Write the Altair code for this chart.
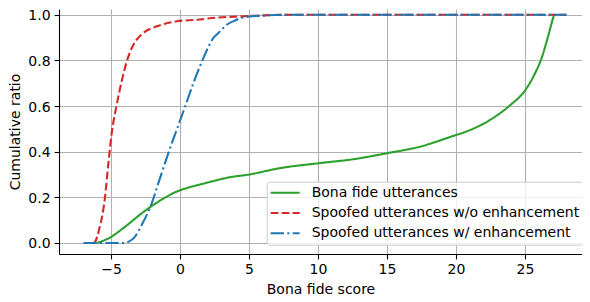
import altair as alt
import pandas as pd

series_names = [
    "Bona fide utterances",
    "Spoofed utterances w/o enhancement",
    "Spoofed utterances w/ enhancement",
]
series_colors = ["#2ca02c", "#d62728", "#1f77b4"]

bona_x = [-6.04, -5.19, -3.99, -2.78, -1.57, -0.36, 0.85, 1.81, 3.62, 5.0, 7.25,
          10.14, 12.56, 14.98, 17.39, 20.05, 20.41, 22.46, 23.91, 25.0, 25.7,
          26.2, 26.57, 26.93, 27.1]
bona_y = [0.0, 0.02, 0.071, 0.13, 0.181, 0.222, 0.247, 0.262, 0.288, 0.30, 0.328,
          0.35, 0.367, 0.393, 0.422, 0.474, 0.481, 0.539, 0.603, 0.668, 0.74,
          0.81, 0.883, 0.963, 1.0]

spoof_x = [-6.3, -6.16, -5.87, -5.43, -5.19, -4.95, -4.59, -4.23, -3.86, -3.38,
           -2.66, -1.69, -0.24, 1.21, 2.78, 4.59, 6.5, 9.0, 28.0]
spoof_y = [0.0, 0.005, 0.057, 0.203, 0.35, 0.481, 0.605, 0.708, 0.795, 0.868,
           0.92, 0.949, 0.971, 0.978, 0.988, 0.993, 0.998, 1.0, 1.0]

enh_x = [-7.0, -4.0, -3.74, -3.26, -2.78, -2.05, -1.57, -1.09, -0.6, -0.24, 0.24,
         0.97, 1.69, 2.42, 2.78, 3.38, 4.0, 4.59, 5.5, 6.28, 8.0, 28.0]
enh_y = [0.0, 0.0, 0.005, 0.028, 0.079, 0.174, 0.262, 0.35, 0.437, 0.496, 0.576,
         0.70, 0.81, 0.898, 0.92, 0.956, 0.975, 0.988, 0.994, 0.997, 1.0, 1.0]

x_ticks = [-5, 0, 5, 10, 15, 20, 25]
y_ticks = [0.0, 0.2, 0.4, 0.6, 0.8, 1.0]

frames = []
for name, xs, ys in zip(series_names, [bona_x, spoof_x, enh_x], [bona_y, spoof_y, enh_y]):
    frames.append(pd.DataFrame({"score": xs, "ratio": ys, "series": name, "idx": range(len(xs))}))
df = pd.concat(frames, ignore_index=True)

FONT = "DejaVu Sans"

x_enc = alt.X("score:Q",
              scale=alt.Scale(domain=[-8.77, 29.13], nice=False, zero=False),
              axis=alt.Axis(values=x_ticks, title="Bona fide score",
                            labelExpr="replace(datum.label, '-', '\u2212')",
                            titlePadding=6))
y_enc = alt.Y("ratio:Q",
              scale=alt.Scale(domain=[-0.0482, 1.025], nice=False, zero=False),
              axis=alt.Axis(values=y_ticks, format=".1f", title="Cumulative ratio",
                            titlePadding=5.5, labelOffset=1))
color_enc = alt.Color("series:N",
                      scale=alt.Scale(domain=series_names, range=series_colors),
                      legend=alt.Legend(title=None, orient="none",
                                        legendX=207.7, legendY=172.7))
dash_enc = alt.StrokeDash("series:N",
                          scale=alt.Scale(domain=series_names,
                                          range=[[1, 0], [7.7, 3.3], [13.3, 3.3, 2.1, 3.3]]),
                          legend=alt.Legend(title=None, orient="none",
                                            legendX=207.7, legendY=172.7))

layers = []
for name in series_names:
    layers.append(
        alt.Chart(df).transform_filter(alt.datum.series == name)
        .mark_line(strokeWidth=2.1, interpolate="monotone")
        .encode(x=x_enc, y=y_enc, color=color_enc, strokeDash=dash_enc,
                order="idx:Q")
    )

chart = alt.layer(*layers).properties(
    width=523, height=245,
    autosize=alt.AutoSizeParams(type="none"),
    padding={"left": 51, "top": 1, "right": 0, "bottom": 44},
).configure_view(stroke=None).configure_axis(
    labelFont=FONT, titleFont=FONT, labelFontSize=14, titleFontSize=14,
    labelColor="black", titleColor="black", titleFontWeight="normal",
    domainColor="black", domainWidth=1.1, tickColor="black", tickWidth=1.1,
    tickSize=4.9, labelPadding=4, gridColor="#b0b0b0", gridWidth=1.1,
    grid=True,
).configure_legend(
    labelFont=FONT, labelFontSize=14, labelColor="black", labelLimit=400,
    symbolType="stroke", symbolSize=841, symbolStrokeWidth=2,
    fillColor="rgba(255,255,255,0.8)", strokeColor="#cccccc", cornerRadius=3,
    padding=3, rowPadding=4.3, clipHeight=16, labelOffset=11,
)

chart.save("out.html", embed_options={"renderer": "svg", "actions": False})
